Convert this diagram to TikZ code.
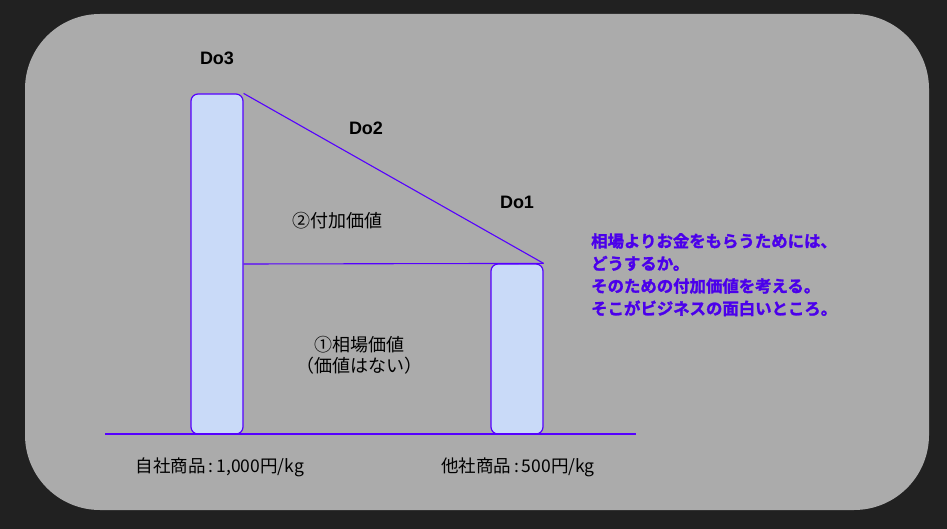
\documentclass[tikz,border=0pt]{standalone}
\usepackage{fontspec}
\setmainfont{Liberation Sans}
\newfontfamily\jp{Noto Sans CJK JP}
\newfontfamily\jpb[FakeBold=1.6]{Noto Sans CJK JP Bold}
\definecolor{bgdark}{RGB}{33,33,33}
\definecolor{panel}{RGB}{171,171,171}
\definecolor{lineblue}{RGB}{85,0,255}
\definecolor{textblue}{RGB}{75,0,235}
\definecolor{barfill}{RGB}{201,218,248}
\tikzset{
  bar/.style={draw=lineblue, fill=barfill, line width=1.2pt, rounded corners=7pt, minimum width=52pt, inner sep=0pt},
  conn/.style={draw=lineblue, line width=1.1pt},
  dolabel/.style={font=\fontsize{18}{21}\selectfont\bfseries, text=black, inner sep=0pt},
  jplabel/.style={font=\jp\fontsize{18}{21}\selectfont, text=black, inner sep=0pt, align=center},
  bottomlabel/.style={font=\jp\fontsize{17.5}{21}\selectfont, text=black, inner sep=0pt},
  note/.style={font=\jpb\fontsize{16.4}{22.5}\selectfont, text=textblue, inner sep=0pt, align=left}
}
\begin{document}
\begin{tikzpicture}[x=1pt,y=-1pt]
\useasboundingbox (0,0) rectangle (947,529);
\fill[bgdark] (0,0) rectangle (947,529);
\fill[panel, rounded corners=75pt] (25,14) rectangle (929,510);
% bars
\node[bar, minimum height=340pt] (do3bar) at (217,264) {};
\node[bar, minimum height=170pt] (do1bar) at (517,349) {};
\coordinate (bl) at (105,434);
\coordinate (br) at (636,434);
\draw[conn] (bl) -- (br);
\draw[conn] (do3bar.east) -- (do1bar.north east);
\draw[conn] (do3bar.north east) -- (do1bar.north east);
% labels
\node[dolabel] (do3) at (217,58) {Do3};
\node[dolabel] (do2) at (366,128) {Do2};
\node[dolabel] (do1) at (517,202) {Do1};
\node[jplabel] (added) at (337,221) {②付加価値};
\node[jplabel] (market) at (359,355) {①相場価値\\（価値はない）};
\node[bottomlabel] (own) at (220,467) {自社商品\,:\,1,000円/kg};
\node[bottomlabel] (other) at (518,467) {他社商品\,:\,500円/kg};
\node[note, anchor=north west] (msg) at (591,233) {相場よりお金をもらうためには、\\どうするか。\\そのための付加価値を考える。\\そこがビジネスの面白いところ。};
\end{tikzpicture}
\end{document}
